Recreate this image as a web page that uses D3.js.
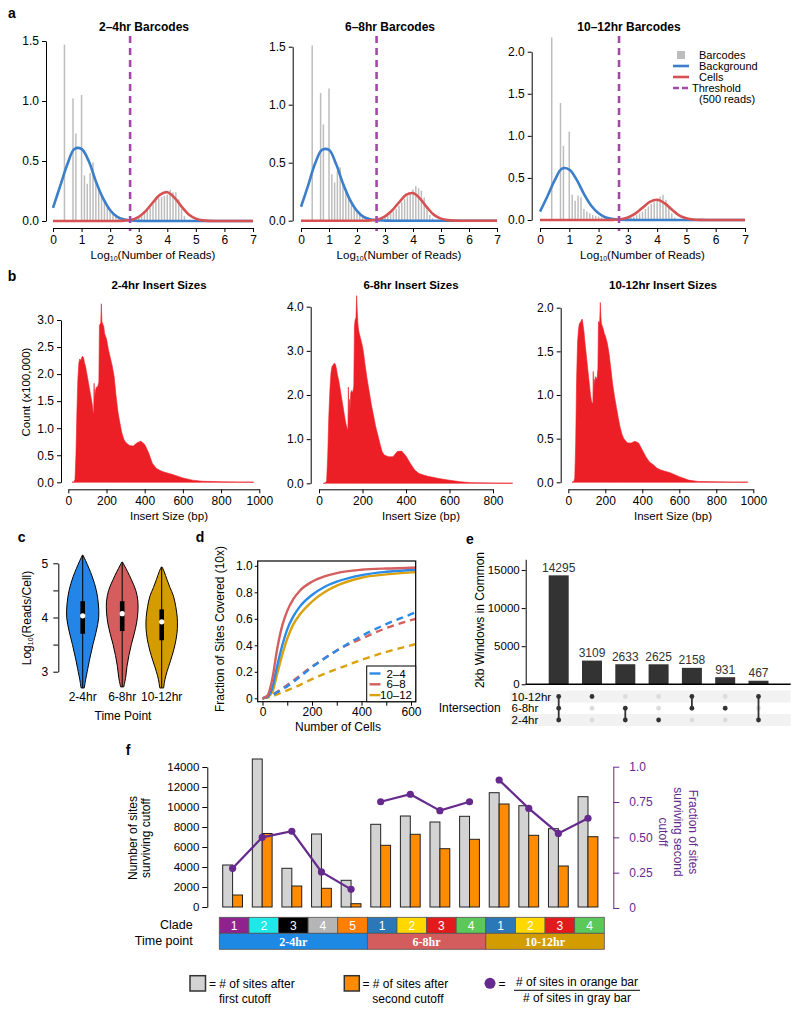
<!DOCTYPE html>
<html><head><meta charset="utf-8">
<script src="https://cdn.jsdelivr.net/npm/d3@7"></script>
<style>body{margin:0;background:#fff}</style>
</head><body><svg id="c" width="800" height="1012" xmlns="http://www.w3.org/2000/svg"></svg>
<script>
// ---------------- DATA ----------------
// Panel a : barcode read-count histograms (log10 reads)
const barcodeTitles = ["2–4hr Barcodes", "6–8hr Barcodes", "10–12hr Barcodes"];
const readLogTicks = [0, 1, 2, 3, 4, 5, 6, 7];
const barPos = [0.4,0.7,0.8,1.0,1.1,1.2,1.3,1.4,1.5,1.6,1.7,1.8,1.9,2.0,2.1,2.2,2.3,2.4,2.5,2.6,2.7,2.8,2.9,3.0,3.1,3.2,3.3,3.4,3.5,3.6,3.7,3.8,3.9,4.0,4.1,4.2,4.3,4.4,4.5,4.6,4.7,4.8];
const bars24 = [1.47,1.02,0.73,1.05, 0.38,0.31,0.40,0.49,0.33,0.28,0.22,0.16,0.12,0.09, 0.07,0.05,0.04,0.03,0.02,0.02,0.02,0.02,0.03,0.04, 0.05,0.07,0.09,0.11,0.14,0.17,0.19,0.2,0.21,0.22, 0.26,0.24,0.24,0.18,0.1,0.04,0.01,0.005];
const bars68 = [1.51,1.10,0.83,1.14, 0.40,0.33,0.43,0.46,0.32,0.26,0.2,0.15,0.11,0.08, 0.06,0.05,0.04,0.03,0.02,0.02,0.02,0.02,0.02,0.03, 0.04,0.06,0.08,0.1,0.13,0.16,0.19,0.21,0.23,0.27, 0.3,0.28,0.26,0.2,0.12,0.05,0.02,0.005];
const bars1012 = [2.17,1.39,0.88,1.05, 0.30,0.23,0.29,0.27,0.13,0.1,0.08,0.06,0.05,0.04, 0.03,0.02,0.02,0.02,0.01,0.01,0.02,0.02,0.02,0.02, 0.03,0.04,0.06,0.08,0.1,0.13,0.16,0.19,0.21,0.24, 0.28,0.3,0.24,0.15,0.08,0.03,0.01,0.005];
const curveX = [0,0.25,0.5,0.75,1,1.25,1.5,1.75,2,2.25,2.5,2.75,3,3.25,3.5,3.75,4,4.25,4.5,4.75,5,5.25,5.5,5.75,6,6.25,6.5,6.75,7];
const bg24 = [0.11,0.29,0.47,0.6,0.6,0.5,0.33,0.19,0.09,0.035,0.012,0.004,0.001,0,0,0,0,0,0,0,0,0,0,0,0,0,0,0,0];
const bg68 = [0.12,0.3,0.49,0.61,0.61,0.49,0.32,0.18,0.085,0.03,0.01,0.003,0.001,0,0,0,0,0,0,0,0,0,0,0,0,0,0,0,0];
const bg1012 = [0.1,0.28,0.47,0.61,0.6,0.48,0.31,0.17,0.08,0.03,0.01,0.003,0.001,0,0,0,0,0,0,0,0,0,0,0,0,0,0,0,0];
const cell24 = [0,0,0,0,0,0,0,0,0,0,0.003,0.01,0.035,0.085,0.155,0.22,0.24,0.195,0.12,0.055,0.02,0.005,0.001,0,0,0,0,0,0];
const cell68 = [0,0,0,0,0,0,0,0,0,0,0.003,0.011,0.037,0.088,0.158,0.222,0.238,0.19,0.115,0.05,0.018,0.005,0.001,0,0,0,0,0,0];
const cell1012 = [0,0,0,0,0,0,0,0,0,0,0.002,0.008,0.03,0.075,0.145,0.215,0.24,0.2,0.125,0.055,0.02,0.005,0.001,0,0,0,0,0,0];
const thresholdReads = 500;
const barcodeLegend = ["Barcodes", "Background", "Cells", "Threshold", "(500 reads)"];

// Panel b : insert size distributions (count x100,000)
const insertTitles = ["2-4hr Insert Sizes", "6-8hr Insert Sizes", "10-12hr Insert Sizes"];
const insertBp = [20,30,35,40,45,50,55,60,65,70,75,80,85,90,95,100,105,110,115,120,125,130,133,135,137,140,143,146,150,155,160,163,166,170,173,176,179,182,185,190,195,200,205,210,220,230,240,250,260,270,280,290,300,320,340,360,380,400,420,440,460,480,500,550,600,650,700,800,890,970];
const ins24 = [0,0.01,0.05,0.5,1.3,1.9,2.2,2.28,2.25,2.3, 2.33,2.3,2.2,2.15,2.05,1.95,1.85,1.75,1.65,1.55, 1.45,1.3,1.26,1.83,1.5,1.72,1.6,1.76,1.75,1.78, 1.85,2.9,2.92,2.95,3.3,2.95,2.95,2.9,2.9,2.75, 2.7,2.65,2.55,2.45,2.3,2.15,1.95,1.6,1.3,1.1, 0.92,0.8,0.74,0.68,0.67,0.73,0.76,0.7,0.55,0.35, 0.26,0.22,0.19,0.14,0.08,0.04,0.02,0.01,0.005,0.005];
const ins68 = [0,0.01,0.05,0.6,1.5,2.1,2.5,2.65,2.68,2.72, 2.7,2.6,2.45,2.35,2.2,2.05,1.9,1.75,1.6,1.45, 1.32,1.24,1.22,2.18,1.4,1.9,1.7,2.05,2.1,2.05, 2.2,3.55,3.7,3.75,4.25,3.9,3.6,3.47,3.4,3.3, 3.2,3.1,2.95,2.75,2.4,2.1,1.8,1.55,1.3,1.1, 0.9,0.72,0.64,0.6,0.6,0.72,0.73,0.62,0.45,0.3, 0.22,0.19,0.16,0.11,0.07,0.035,0.015,0.007,0.004,0];
const ins1012 = [0,0.01,0.05,0.45,1.2,1.6,1.75,1.82,1.83,1.85, 1.87,1.8,1.72,1.6,1.5,1.4,1.3,1.2,1.1,1.0, 0.93,0.9,0.92,1.27,0.98,1.18,1.1,1.21,1.2,1.18, 1.3,1.84,1.82,1.85,2.06,1.9,1.82,1.8,1.78,1.75, 1.7,1.68,1.64,1.6,1.48,1.3,1.12,0.98,0.86,0.74, 0.63,0.55,0.5,0.45,0.45,0.47,0.45,0.37,0.29,0.23, 0.2,0.16,0.14,0.11,0.065,0.025,0.01,0.005,0.003,0.003];
const insertMaxBp = [970, 890, 970];
const insTicks24 = [0,0.5,1,1.5,2,2.5,3];
const insTicks68 = [0,1,2,3,4];
const insTicks1012 = [0,0.5,1,1.5,2];
const bpTicks1000 = [0,200,400,600,800,1000];
const bpTicks800 = [0,200,400,600,800];

// Panel c : violins log10(reads/cell)
const timeLabels = ["2-4hr", "6-8hr", "10-12hr"];
const vLevels24 = [5.15,5.05,4.9,4.75,4.5,4.25,4.0,3.75,3.5,3.25,3.0,2.85,2.7];
const vWidth24 = [0.02,0.18,0.4,0.6,0.85,0.98,1.0,0.85,0.64,0.45,0.28,0.18,0.1];
const vLevels68 = [5.02,4.95,4.85,4.7,4.5,4.3,4.1,3.9,3.7,3.5,3.3,3.1,2.9,2.72];
const vWidth68 = [0.03,0.15,0.33,0.57,0.85,0.98,0.98,0.9,0.75,0.57,0.42,0.3,0.22,0.1];
const vLevels1012 = [4.93,4.85,4.7,4.55,4.4,4.2,4.0,3.8,3.6,3.4,3.2,3.0,2.85,2.7];
const vWidth1012 = [0.03,0.15,0.33,0.52,0.73,0.88,0.97,0.98,0.9,0.75,0.55,0.33,0.2,0.12];
const vMedian = [4.03, 4.07, 3.92];
const vQ1 = [3.7, 3.75, 3.58];
const vQ3 = [4.3, 4.3, 4.15];
const violinTicks = [3, 3.5, 4, 4.5, 5];

// Panel d : fraction of sites covered
const cellCounts = [0,20,40,60,80,100,125,150,200,250,300,400,500,600,619];
const cov24 = [0,0.01,0.08,0.25,0.4,0.52,0.62,0.69,0.78,0.84,0.88,0.93,0.955,0.968,0.97];
const cov68 = [0,0.02,0.15,0.38,0.55,0.66,0.75,0.81,0.88,0.92,0.945,0.97,0.98,0.985,0.987];
const cov1012 = [0,0.01,0.05,0.19,0.33,0.45,0.56,0.63,0.73,0.8,0.85,0.91,0.935,0.95,0.952];
const covDash24 = [0,0.01,0.025,0.045,0.07,0.09,0.125,0.16,0.235,0.3,0.36,0.47,0.56,0.635,0.65];
const covDash68 = [0,0.01,0.03,0.05,0.075,0.1,0.135,0.17,0.24,0.3,0.36,0.45,0.53,0.59,0.6];
const covDash1012 = [0,0.005,0.015,0.03,0.045,0.06,0.08,0.1,0.145,0.185,0.22,0.29,0.35,0.4,0.41];
const covLegend = ["2–4", "6–8", "10–12"];
const covYTicks = [0,0.2,0.4,0.6,0.8,1.0];
const covXTicks = [0,100,200,300,400,500,600];

// Panel e : upset plot
const setNames = ["10-12hr", "6-8hr", "2-4hr"];
const intersectCounts = [14295, 3109, 2633, 2625, 2158, 931, 467];
const intersectMembers = [[1,1,1],[1,0,0],[0,1,1],[0,0,1],[1,1,0],[0,1,0],[1,0,1]];
const upsetTicks = [0, 5000, 10000, 15000];

// Panel f : sites surviving cutoffs per clade
const cladeLabels = ["1","2","3","4","5","1","2","3","4","1","2","3","4"];
const cladeTime = [0,0,0,0,0,1,1,1,1,2,2,2,2];
const firstCutoff = [4200,14800,3870,7300,2670,8270,9100,8500,9070,11430,10130,7830,11030];
const secondCutoff = [1200,7350,2100,1870,330,6170,7270,5830,6770,10300,7170,4100,7030];
const fractionSurviving = [0.281,0.50,0.543,0.255,0.132,0.752,0.805,0.689,0.752,0.906,0.705,0.528,0.635];
const sitesTicks = [0,2000,4000,6000,8000,10000,12000,14000];
const fracTicks = [0,0.25,0.5,0.75,1.0];

// ---------------- STYLE ----------------
const F = '"Liberation Sans", Arial, Helvetica, sans-serif';
const BLUE_A = "#3b7ec9", RED_A = "#d65252", PURP_A = "#a24aa8", GRAY_A = "#bdbdbd";
const INS_RED = "#ec1f26";
const T_COL = ["#2485e8", "#d65d5d", "#d49c00"];
const D_COL = ["#2b8be8", "#d45f5f", "#dba20d"];
const CLADE_COL = ["#8e2390","#1ee8e8","#000000","#b5b5b5","#ff8000","#2a78b8","#ffd800","#e31a1c","#5cc85a","#2a78b8","#ffd800","#e31a1c","#5cc85a"];
const TIME_COL = ["#1e88e5", "#d35c5c", "#d39c00"];
const PURPLE = "#66298e", GRAYBAR = "#d3d3d3", ORANGE = "#ff8c00";
const fmtInt = d3.format('d');

const svg = d3.select('#c');
function T(x, y, s, o = {}) {
  const t = svg.append('text').attr('x', x).attr('y', y).attr('dominant-baseline', 'central')
    .attr('font-family', o.ff || F).attr('font-size', o.fs || 11).attr('text-anchor', o.a || 'middle')
    .attr('fill', o.c || '#000').text(s);
  if (o.b) t.attr('font-weight', 'bold');
  if (o.r) t.attr('transform', `rotate(${o.r},${x},${y})`);
  return t;
}
function styleAxis(g, fs, col) {
  col = col || '#000';
  g.attr('font-family', F).attr('font-size', fs || 11);
  g.select('.domain').attr('stroke', col);
  g.selectAll('.tick line').attr('stroke', col);
  g.selectAll('.tick text').attr('fill', col);
  return g;
}

// panel letters
[["a",12,13],["b",12,276],["c",21.7,537],["d",200,537],["e",470,539],["f",128,750]].forEach(l => T(l[1], l[2], l[0], {fs: 14, b: true}));

// ---------------- PANEL A ----------------
const aBars = [bars24, bars68, bars1012];
const aBg = [bg24, bg68, bg1012];
const aCell = [cell24, cell68, cell1012];
const aYTicks = [[0,0.5,1,1.5],[0,0.5,1,1.5],[0,0.5,1,1.5,2]];
const aLay = [
  {x0:53, x1:253, ax:46, y0:221, yv:1.5, yt:41, tx:144},
  {x0:301, x1:497, ax:292.7, y0:220.7, yv:1.5, yt:46.7, tx:390},
  {x0:540, x1:745, ax:531.7, y0:220, yv:2, yt:51.7, tx:629}
];
aLay.forEach((L, i) => {
  const x = d3.scaleLinear().domain([0, 7]).range([L.x0, L.x1]);
  const y = d3.scaleLinear().domain([0, L.yv]).range([L.y0, L.yt]);
  const g = svg.append('g');
  g.selectAll('line.bar').data(barPos.map((p, j) => ({p, v: aBars[i][j]}))).join('line')
    .attr('x1', d => x(d.p)).attr('x2', d => x(d.p)).attr('y1', y(0)).attr('y2', d => y(d.v))
    .attr('stroke', GRAY_A).attr('stroke-width', 1.5);
  const ln = d3.line().x((d, j) => x(curveX[j])).y(d => y(Math.max(0, d))).curve(d3.curveCatmullRom.alpha(0.5));
  g.append('path').attr('d', ln(aBg[i])).attr('fill', 'none').attr('stroke', BLUE_A).attr('stroke-width', 2.6);
  g.append('path').attr('d', ln(aCell[i])).attr('fill', 'none').attr('stroke', RED_A).attr('stroke-width', 2.6);
  const tx = x(Math.log10(thresholdReads));
  g.append('line').attr('x1', tx).attr('x2', tx).attr('y1', 36).attr('y2', 231)
    .attr('stroke', PURP_A).attr('stroke-width', 2.6).attr('stroke-dasharray', '7,5');
  styleAxis(svg.append('g').attr('transform', `translate(${L.ax},0)`)
    .call(d3.axisLeft(y).tickValues(aYTicks[i]).tickFormat(d3.format('.1f')).tickSize(4).tickSizeOuter(0).tickPadding(3)), 12);
  styleAxis(svg.append('g').attr('transform', `translate(0,228)`)
    .call(d3.axisBottom(x).tickValues(readLogTicks).tickFormat(fmtInt).tickSize(4).tickSizeOuter(0).tickPadding(3)), 12);
  T(L.tx, 27, barcodeTitles[i], {fs: 12, b: true});
  const lt = svg.append('text').attr('x', (L.x0 + L.x1) / 2).attr('y', 255).attr('dominant-baseline', 'central')
    .attr('font-family', F).attr('font-size', 11.5).attr('text-anchor', 'middle');
  lt.append('tspan').text('Log');
  lt.append('tspan').attr('font-size', 7).attr('dy', 3).text('10');
  lt.append('tspan').attr('dy', -3).text('(Number of Reads)');
});
// legend panel a
(function () {
  const lx = 681, ys = [55, 66, 77, 88, 99];
  svg.append('rect').attr('x', lx - 4).attr('y', ys[0] - 4).attr('width', 8).attr('height', 8).attr('fill', GRAY_A);
  svg.append('line').attr('x1', lx - 8).attr('x2', lx + 8).attr('y1', ys[1]).attr('y2', ys[1]).attr('stroke', BLUE_A).attr('stroke-width', 2.6);
  svg.append('line').attr('x1', lx - 8).attr('x2', lx + 8).attr('y1', ys[2]).attr('y2', ys[2]).attr('stroke', RED_A).attr('stroke-width', 2.6);
  svg.append('line').attr('x1', lx - 8).attr('x2', lx + 8).attr('y1', ys[3]).attr('y2', ys[3]).attr('stroke', PURP_A).attr('stroke-width', 2.6).attr('stroke-dasharray', '6,3');
  T(699, ys[0], barcodeLegend[0], {a: 'start', fs: 11});
  T(699, ys[1], barcodeLegend[1], {a: 'start', fs: 11});
  T(699, ys[2], barcodeLegend[2], {a: 'start', fs: 11});
  T(692, ys[3], barcodeLegend[3], {a: 'start', fs: 11});
  T(699, ys[4], barcodeLegend[4], {a: 'start', fs: 11});
})();

// ---------------- PANEL B ----------------
const bData = [ins24, ins68, ins1012];
const bYT = [insTicks24, insTicks68, insTicks1012];
const bXT = [bpTicks1000, bpTicks800, bpTicks1000];
const bLay = [
  {ax:61, y0:482.3, yt:320, yv:3, x0:68.3, x1:259.3, xd:1000, tx:159, lx:169},
  {ax:310.7, y0:483.3, yt:306.7, yv:4, x0:319, x1:493, xd:800, tx:411, lx:421},
  {ax:560.7, y0:482.3, yt:307.7, yv:2, x0:568.3, x1:753.3, xd:1000, tx:663, lx:673}
];
bLay.forEach((L, i) => {
  const x = d3.scaleLinear().domain([0, L.xd]).range([L.x0, L.x1]);
  const y = d3.scaleLinear().domain([0, L.yv]).range([L.y0, L.yt]);
  const pts = insertBp.map((bp, j) => ({bp, v: bData[i][j]})).filter(d => d.bp <= insertMaxBp[i]);
  svg.append('path').attr('d', d3.area().x(d => x(d.bp)).y0(y(0)).y1(d => y(d.v))(pts))
    .attr('fill', INS_RED).attr('stroke', INS_RED).attr('stroke-width', 0.6);
  styleAxis(svg.append('g').attr('transform', `translate(${L.ax},0)`)
    .call(d3.axisLeft(y).tickValues(bYT[i]).tickFormat(d3.format('.1f')).tickSize(4).tickSizeOuter(0).tickPadding(3)), 12);
  styleAxis(svg.append('g').attr('transform', `translate(0,489.3)`)
    .call(d3.axisBottom(x).tickValues(bXT[i]).tickFormat(fmtInt).tickSize(4).tickSizeOuter(0).tickPadding(3)), 12);
  T(L.tx, 285, insertTitles[i], {fs: 11.5, b: true});
  T(L.lx, 516, "Insert Size (bp)", {fs: 11.5});
});
T(25.7, 392, "Count (x100,000)", {fs: 11.5, r: -90});

// ---------------- PANEL C ----------------
(function () {
  const yc = d3.scaleLinear().domain([3, 5]).range([671.7, 563.3]);
  const xc = d3.scalePoint().domain(timeLabels).range([82.7, 161.7]);
  const lv = [vLevels24, vLevels68, vLevels1012], wd = [vWidth24, vWidth68, vWidth1012];
  const hw = 16;
  timeLabels.forEach((t, i) => {
    const cx = xc(t);
    const pts = lv[i].map((l, j) => [l, wd[i][j]]);
    svg.append('path').attr('d', d3.area().y(d => yc(d[0])).x0(d => cx - hw * d[1]).x1(d => cx + hw * d[1]).curve(d3.curveCatmullRom)(pts))
      .attr('fill', T_COL[i]).attr('stroke', '#000').attr('stroke-width', 1);
    svg.append('line').attr('x1', cx).attr('x2', cx).attr('y1', yc(d3.max(lv[i]))).attr('y2', yc(d3.min(lv[i])))
      .attr('stroke', '#000').attr('stroke-width', 1);
    svg.append('rect').attr('x', cx - 2.3).attr('width', 4.6).attr('y', yc(vQ3[i])).attr('height', yc(vQ1[i]) - yc(vQ3[i])).attr('fill', '#000');
    svg.append('circle').attr('cx', cx).attr('cy', yc(vMedian[i])).attr('r', 2.6).attr('fill', '#fff');
    T(cx, 697, t, {fs: 12});
  });
  styleAxis(svg.append('g').attr('transform', 'translate(58.3,0)')
    .call(d3.axisLeft(yc).tickValues(violinTicks).tickFormat(d => Number.isInteger(d) ? d : '').tickSize(5).tickSizeOuter(0).tickPadding(5)), 12);
  T(123, 716, "Time Point", {fs: 12});
  const yl = svg.append('text').attr('transform', 'translate(27,618) rotate(-90)').attr('text-anchor', 'middle')
    .attr('dominant-baseline', 'central').attr('font-family', F).attr('font-size', 12);
  yl.append('tspan').text('Log');
  yl.append('tspan').attr('font-size', 7).attr('dy', 3).text('10');
  yl.append('tspan').attr('dy', -3).text('(Reads/Cell)');
})();

// ---------------- PANEL D ----------------
(function () {
  const x = d3.scaleLinear().domain([0, 600]).range([262.5, 411]);
  const y = d3.scaleLinear().domain([0, 1]).range([698.3, 565.8]);
  svg.append('clipPath').attr('id', 'dclip').append('rect').attr('x', 257.7).attr('y', 561).attr('width', 158).attr('height', 140.7);
  const g = svg.append('g').attr('clip-path', 'url(#dclip)');
  const ln = d3.line().x((d, j) => x(cellCounts[j])).y(d => y(d)).curve(d3.curveMonotoneX);
  [covDash1012, covDash68, covDash24].forEach((s, k) => {
    g.append('path').attr('d', ln(s)).attr('fill', 'none').attr('stroke', D_COL[2 - k]).attr('stroke-width', 2.4).attr('stroke-dasharray', '7,5');
  });
  [cov1012, cov24, cov68].forEach((s, k) => {
    const c = [D_COL[2], D_COL[0], D_COL[1]][k];
    g.append('path').attr('d', ln(s)).attr('fill', 'none').attr('stroke', c).attr('stroke-width', 2.4);
  });
  svg.append('rect').attr('x', 257.7).attr('y', 561).attr('width', 158).attr('height', 140.7).attr('fill', 'none').attr('stroke', '#000').attr('stroke-width', 1.2);
  styleAxis(svg.append('g').attr('transform', 'translate(257.7,0)')
    .call(d3.axisLeft(y).tickValues(covYTicks).tickFormat(d => d === 0 ? '0' : d3.format('.1f')(d)).tickSize(3).tickSizeOuter(0).tickPadding(2)), 12)
    .select('.domain').remove();
  styleAxis(svg.append('g').attr('transform', 'translate(0,701.7)')
    .call(d3.axisBottom(x).tickValues(covXTicks).tickFormat(d => d % 200 === 0 ? d : '').tickSize(4).tickSizeOuter(0).tickPadding(2)), 12)
    .select('.domain').remove();
  T(338, 727, "Number of Cells", {fs: 12});
  T(220, 629, "Fraction of Sites Covered (10x)", {fs: 12, r: -90});
  svg.append('rect').attr('x', 366.7).attr('y', 666).attr('width', 49).attr('height', 35.7).attr('fill', '#fff').attr('stroke', '#000').attr('stroke-width', 1);
  covLegend.forEach((s, k) => {
    const yy = 673.5 + k * 10.8;
    svg.append('line').attr('x1', 369.5).attr('x2', 380.5).attr('y1', yy).attr('y2', yy).attr('stroke', D_COL[k]).attr('stroke-width', 2.4);
    T(396, yy, s, {fs: 11.5});
  });
})();

// ---------------- PANEL E ----------------
(function () {
  const y = d3.scaleLinear().domain([0, 16400]).range([684.3, 559.3]);
  const x = d3.scalePoint().domain(d3.range(intersectCounts.length)).range([558.7, 758.5]);
  const rowY = d3.scalePoint().domain(setNames).range([696.5, 720]);
  [setNames[0], setNames[2]].forEach(s => {
    svg.append('rect').attr('x', 510).attr('y', rowY(s) - 6).attr('width', 280.7).attr('height', 12).attr('fill', '#f2f2f2');
  });
  svg.selectAll('rect.ebar').data(intersectCounts).join('rect')
    .attr('x', (d, i) => x(i) - 10).attr('width', 20).attr('y', d => y(d)).attr('height', d => y(0) - y(d)).attr('fill', '#333');
  intersectCounts.forEach((d, i) => T(x(i), y(d) - 7.5, String(d), {fs: 12, c: '#333'}));
  svg.append('line').attr('x1', 525.7).attr('x2', 790.7).attr('y1', 684.3).attr('y2', 684.3).attr('stroke', '#000').attr('stroke-width', 1.6);
  styleAxis(svg.append('g').attr('transform', 'translate(525.7,0)')
    .call(d3.axisLeft(y).tickValues(upsetTicks).tickFormat(fmtInt).tickSize(4).tickSizeOuter(0).tickPadding(2)), 11.5);
  T(480, 620, "2kb Windows in Common", {fs: 12, r: -90});
  intersectMembers.forEach((m, i) => {
    const on = setNames.filter((s, k) => m[k]);
    setNames.forEach((s, k) => {
      svg.append('circle').attr('cx', x(i)).attr('cy', rowY(s)).attr('r', 2.4).attr('fill', m[k] ? '#333' : '#dcdcdc');
    });
    if (on.length > 1) {
      svg.append('line').attr('x1', x(i)).attr('x2', x(i)).attr('y1', rowY(on[0])).attr('y2', rowY(on[on.length - 1])).attr('stroke', '#333').attr('stroke-width', 1.8);
    }
  });
  setNames.forEach(s => T(511.5, rowY(s), s, {a: 'start', fs: 11.5}));
  T(500.7, 708.2, "Intersection", {a: 'end', fs: 12});
})();

// ---------------- PANEL F ----------------
(function () {
  const band = d3.scaleBand().domain(d3.range(cladeLabels.length)).range([219.3, 604.3]);
  const bw = band.bandwidth();
  const y = d3.scaleLinear().domain([0, 14000]).range([907, 767]);
  const yr = d3.scaleLinear().domain([0, 1]).range([908, 766.7]);
  svg.selectAll('rect.g1').data(firstCutoff).join('rect')
    .attr('x', (d, i) => band(i) + 3.4).attr('width', 9.9).attr('y', d => y(d)).attr('height', d => y(0) - y(d))
    .attr('fill', GRAYBAR).attr('stroke', '#222').attr('stroke-width', 1);
  svg.selectAll('rect.g2').data(secondCutoff).join('rect')
    .attr('x', (d, i) => band(i) + 13.3).attr('width', 9.9).attr('y', d => y(d)).attr('height', d => y(0) - y(d))
    .attr('fill', ORANGE).attr('stroke', '#222').attr('stroke-width', 1);
  const px = i => band(i) + 13.3;
  const ln = d3.line().x(d => px(d)).y(d => yr(fractionSurviving[d]));
  [0, 1, 2].forEach(t => {
    const idx = d3.range(cladeLabels.length).filter(i => cladeTime[i] === t);
    svg.append('path').attr('d', ln(idx)).attr('fill', 'none').attr('stroke', PURPLE).attr('stroke-width', 2.2);
    idx.forEach(i => svg.append('circle').attr('cx', px(i)).attr('cy', yr(fractionSurviving[i])).attr('r', 3.6).attr('fill', PURPLE));
  });
  styleAxis(svg.append('g').attr('transform', 'translate(207.3,0)')
    .call(d3.axisLeft(y).tickValues(sitesTicks).tickFormat(fmtInt).tickSize(5).tickSizeOuter(0).tickPadding(3)), 11.5);
  styleAxis(svg.append('g').attr('transform', 'translate(613.3,0)')
    .call(d3.axisRight(yr).tickValues(fracTicks).tickFormat(d => d === 0 ? '0' : d === 1 ? '1.0' : d.toFixed(2)).tickSize(6).tickSizeOuter(0).tickPadding(10)), 12, PURPLE);
  T(133, 838, "Number of sites", {fs: 12, r: -90});
  T(146, 838, "surviving cutoff", {fs: 12, r: -90});
  T(693, 832, "Fraction of sites", {fs: 12, r: 90, c: PURPLE});
  T(678, 832, "surviving second", {fs: 12, r: 90, c: PURPLE});
  T(663, 832, "cutoff", {fs: 12, r: 90, c: PURPLE});
  cladeLabels.forEach((c, i) => {
    svg.append('rect').attr('x', band(i)).attr('y', 917.3).attr('width', bw).attr('height', 16).attr('fill', CLADE_COL[i]).attr('stroke', '#555').attr('stroke-width', 0.8);
    T(band(i) + bw / 2, 925.5, c, {fs: 12, c: '#fff'});
  });
  timeLabels.forEach((t, k) => {
    const idx = d3.range(cladeLabels.length).filter(i => cladeTime[i] === k);
    const x0 = band(idx[0]), x1 = band(idx[idx.length - 1]) + bw;
    svg.append('rect').attr('x', x0).attr('y', 933.3).attr('width', x1 - x0).attr('height', 16).attr('fill', TIME_COL[k]).attr('stroke', '#555').attr('stroke-width', 0.8);
    T((x0 + x1) / 2, 941.5, t, {fs: 12, c: '#fff', b: true, ff: '"Liberation Serif", "Times New Roman", serif'});
  });
  T(192.7, 925.3, "Clade", {a: 'end', fs: 12.5});
  T(192.7, 941.3, "Time point", {a: 'end', fs: 12.5});
  svg.append('rect').attr('x', 190).attr('y', 975.7).attr('width', 15.5).attr('height', 15.3).attr('fill', GRAYBAR).attr('stroke', '#333').attr('stroke-width', 1.5);
  T(209, 984, "= # of sites after", {a: 'start', fs: 12});
  T(219, 998.5, "first cutoff", {a: 'start', fs: 12});
  svg.append('rect').attr('x', 344.3).attr('y', 975.7).attr('width', 15).attr('height', 15.3).attr('fill', ORANGE).attr('stroke', '#333').attr('stroke-width', 1.5);
  T(362.5, 984, "= # of sites after", {a: 'start', fs: 12});
  T(372.3, 998.5, "second cutoff", {a: 'start', fs: 12});
  svg.append('circle').attr('cx', 490).attr('cy', 983.3).attr('r', 5.5).attr('fill', PURPLE);
  T(498.5, 983.5, "=", {a: 'start', fs: 12});
  T(577, 982, "# of sites in orange bar", {fs: 12});
  svg.append('line').attr('x1', 514).attr('x2', 640).attr('y1', 990.3).attr('y2', 990.3).attr('stroke', '#000').attr('stroke-width', 1);
  T(577, 997.5, "# of sites in gray bar", {fs: 12});
})();
</script></body></html>
